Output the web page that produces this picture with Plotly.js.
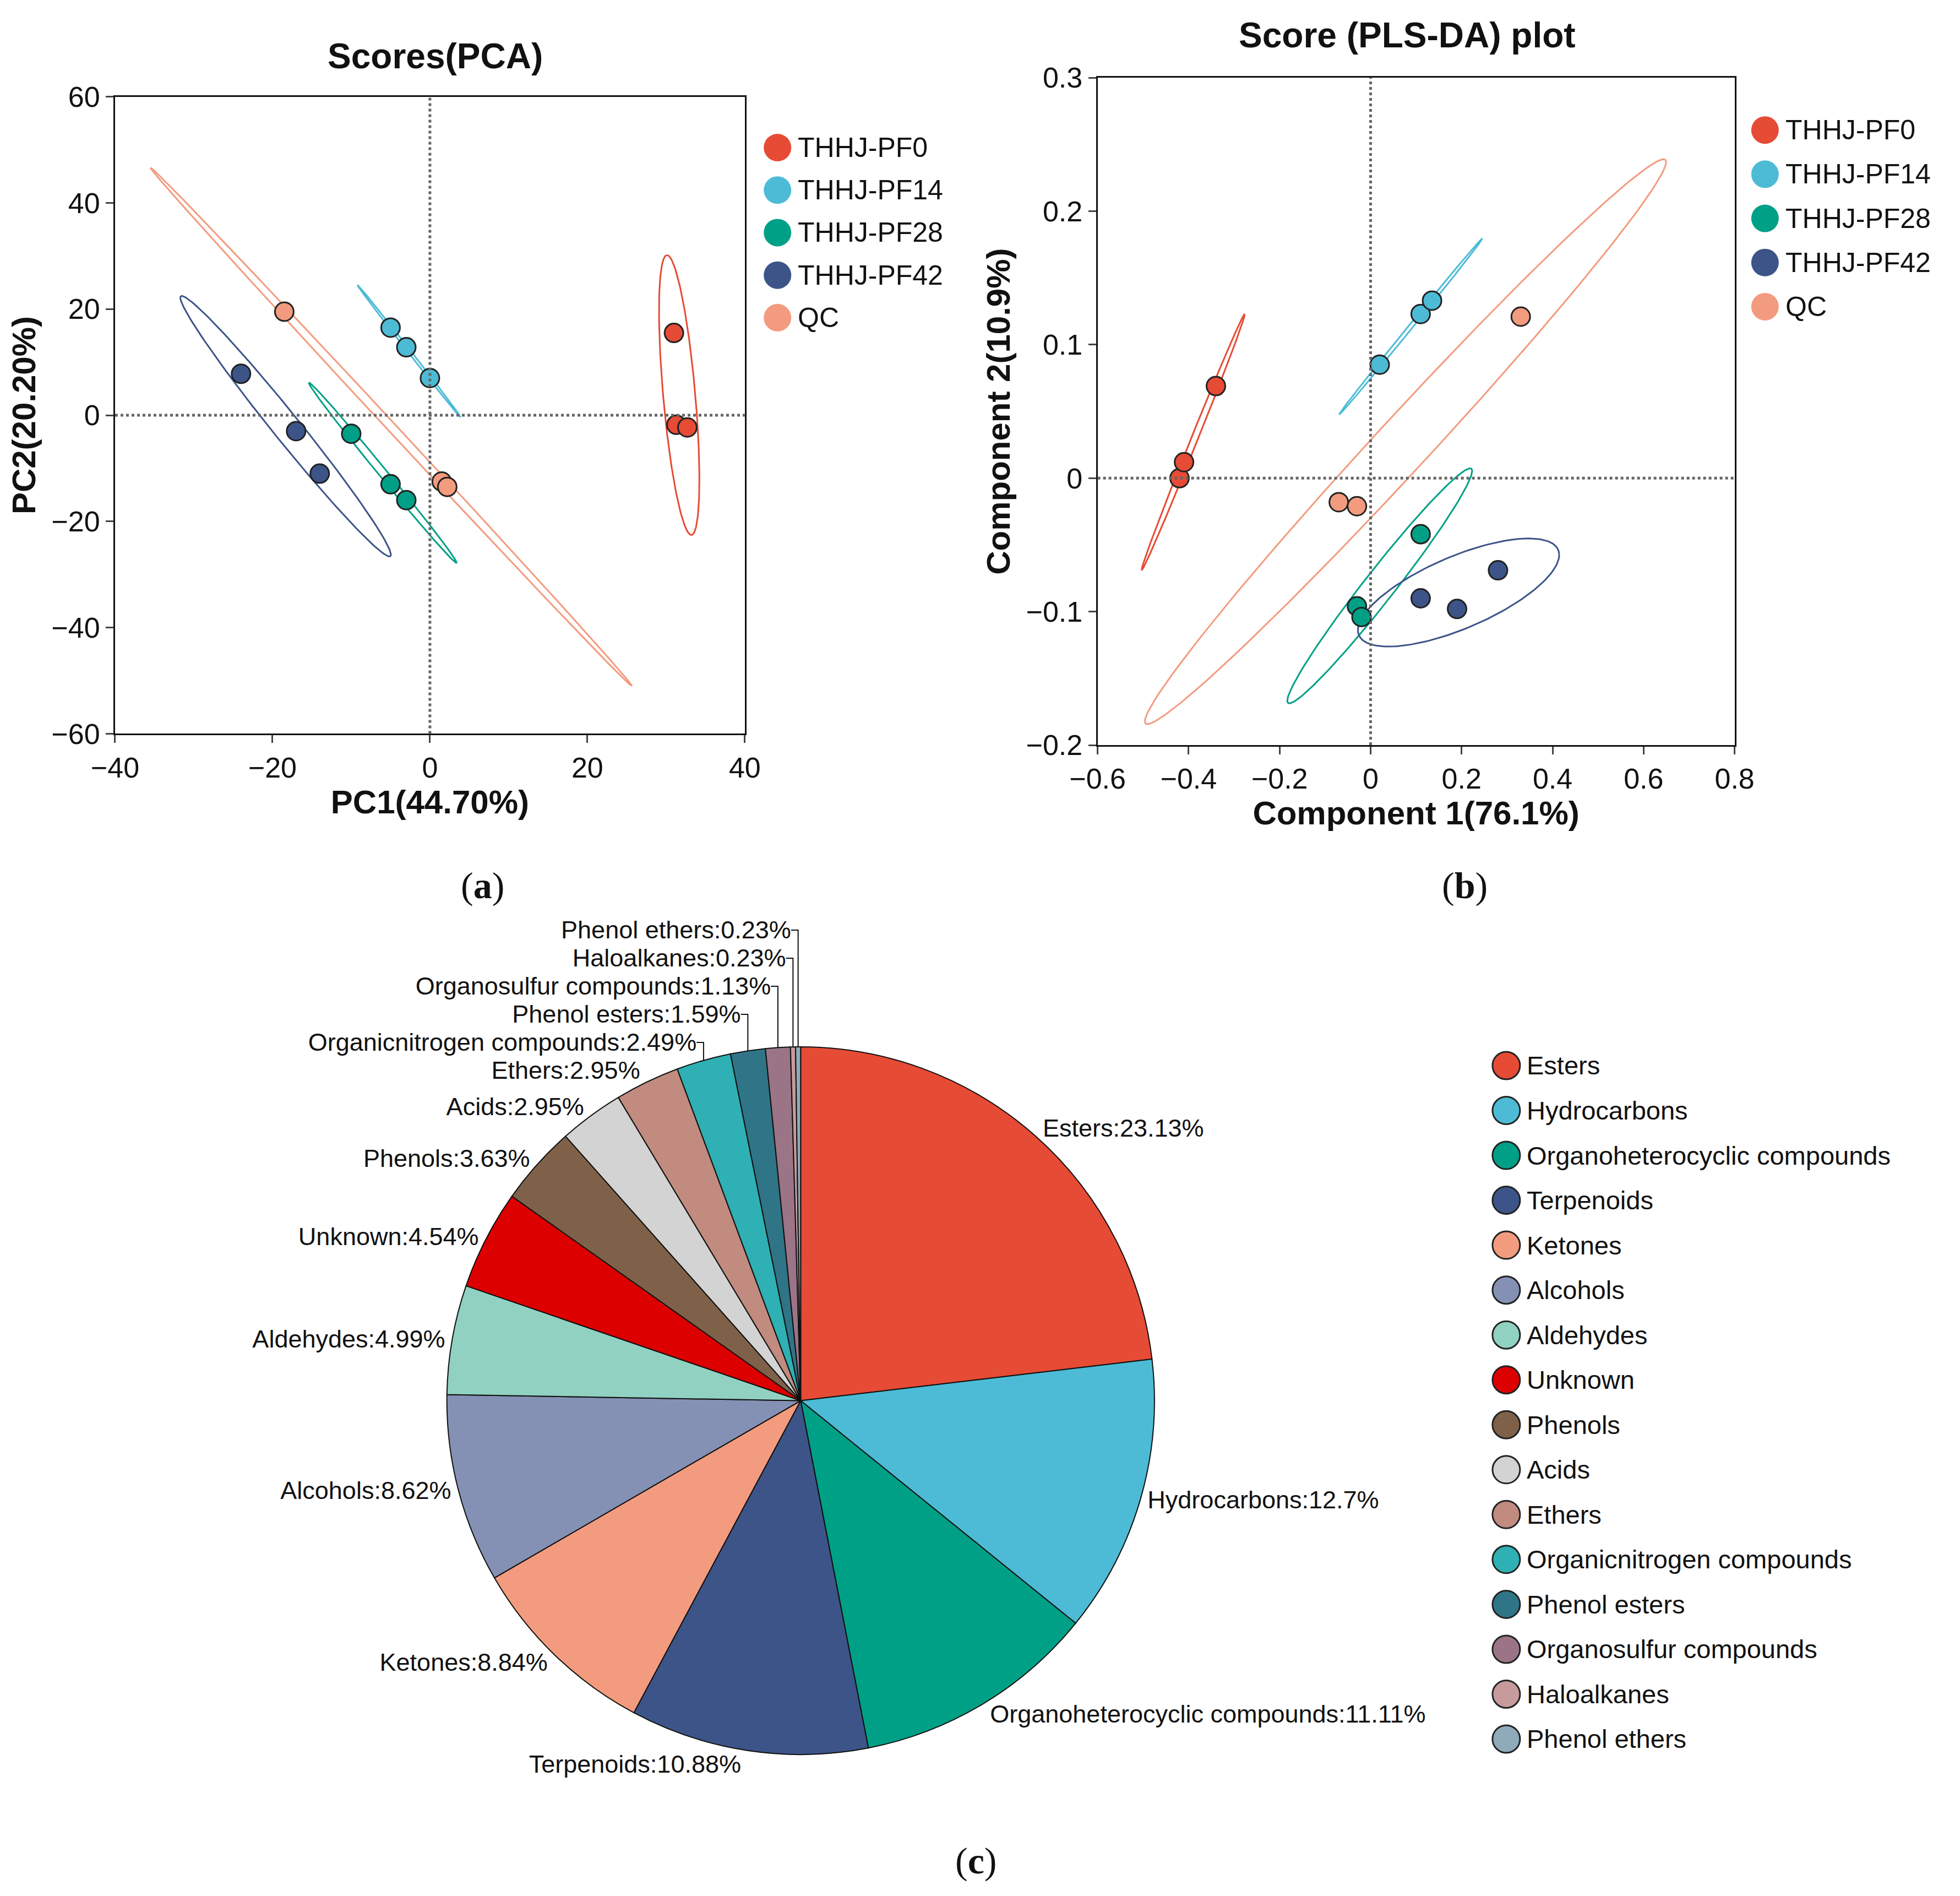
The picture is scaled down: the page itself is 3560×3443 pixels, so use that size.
<!DOCTYPE html>
<html><head><meta charset="utf-8">
<script src="https://cdn.plot.ly/plotly-3.0.1.min.js"></script>
<style>body{margin:0;background:#fff}</style>
</head><body>
<div id="g" style="width:3560px;height:3443px"></div>
<script>
var groups = ['THHJ-PF0', 'THHJ-PF14', 'THHJ-PF28', 'THHJ-PF42', 'QC'];
var groupColors = ['#e64b35', '#4dbbd5', '#00a087', '#3c5488', '#f39b7f'];

// PCA scores
var pcaX = [[31, 31.3, 32.7], [-5, -3, 0], [-10, -5, -3], [-24, -17, -14], [-18.5, 1.5, 2.2]];
var pcaY = [[15.5, -1.8, -2.3], [16.5, 12.8, 7], [-3.5, -13, -16], [7.8, -3, -11], [19.5, -12.5, -13.5]];

// PLS-DA scores
var plsX = [[-0.42, -0.41, -0.34], [0.02, 0.11, 0.135], [0.11, -0.03, -0.02], [0.11, 0.19, 0.28], [-0.07, -0.03, 0.33]];
var plsY = [[0, 0.012, 0.069], [0.085, 0.123, 0.133], [-0.042, -0.096, -0.104], [-0.09, -0.098, -0.069], [-0.018, -0.021, 0.121]];

// compound classes
var classes = ['Esters', 'Hydrocarbons', 'Organoheterocyclic compounds', 'Terpenoids', 'Ketones', 'Alcohols',
  'Aldehydes', 'Unknown', 'Phenols', 'Acids', 'Ethers', 'Organicnitrogen compounds', 'Phenol esters',
  'Organosulfur compounds', 'Haloalkanes', 'Phenol ethers'];
var shares = [23.13, 12.7, 11.11, 10.88, 8.84, 8.62, 4.99, 4.54, 3.63, 2.95, 2.95, 2.49, 1.59, 1.13, 0.23, 0.23];
var classColors = ['#e64b35', '#4dbbd5', '#00a087', '#3c5488', '#f39b7f', '#8491b4', '#91d1c2', '#dc0000',
  '#7e6148', '#d3d3d3', '#c18b80', '#2fb0b4', '#2f7587', '#9b7487', '#c79a9c', '#8fabb9'];

function ellipse(xs, ys, k) {
  var n = xs.length, mx = 0, my = 0;
  for (var i = 0; i < n; i++) { mx += xs[i] / n; my += ys[i] / n; }
  var sxx = 0, syy = 0, sxy = 0;
  for (var i = 0; i < n; i++) {
    sxx += (xs[i] - mx) * (xs[i] - mx) / (n - 1);
    syy += (ys[i] - my) * (ys[i] - my) / (n - 1);
    sxy += (xs[i] - mx) * (ys[i] - my) / (n - 1);
  }
  var tr = sxx + syy, det = sxx * syy - sxy * sxy;
  var l1 = tr / 2 + Math.sqrt(tr * tr / 4 - det), l2 = Math.max(tr / 2 - Math.sqrt(tr * tr / 4 - det), 0);
  var ang = Math.atan2(l1 - sxx, sxy);
  if (Math.abs(sxy) < 1e-12) ang = sxx >= syy ? 0 : Math.PI / 2;
  var a = k * Math.sqrt(l1), b = k * Math.sqrt(l2) + k * Math.sqrt(l1) * 0.01;
  var ex = [], ey = [];
  for (var j = 0; j <= 160; j++) {
    var t = 2 * Math.PI * j / 160;
    var u = a * Math.cos(t), v = b * Math.sin(t);
    ex.push(mx + u * Math.cos(ang) - v * Math.sin(ang));
    ey.push(my + u * Math.sin(ang) + v * Math.cos(ang));
  }
  return [ex, ey];
}

var data = [];
function addPanel(X, Y, xa, ya, k) {
  for (var g = 0; g < groups.length; g++) {
    var e = ellipse(X[g], Y[g], k);
    data.push({x: e[0], y: e[1], xaxis: xa, yaxis: ya, mode: 'lines', type: 'scatter',
      line: {color: groupColors[g], width: 3}, showlegend: false, hoverinfo: 'skip'});
  }
  for (var g = 0; g < groups.length; g++) {
    data.push({x: X[g], y: Y[g], xaxis: xa, yaxis: ya, name: groups[g], showlegend: false,
      mode: 'markers', type: 'scatter',
      marker: {color: groupColors[g], size: 34, line: {color: '#222', width: 3}}});
  }
}
addPanel(pcaX, pcaY, 'x', 'y', 2.6);
addPanel(plsX, plsY, 'x2', 'y2', 2.6);

data.push({
  type: 'pie', labels: classes, values: shares, sort: false, direction: 'clockwise', rotation: 0,
  domain: {x: [0.228, 0.589], y: [0.0745, 0.448]},
  marker: {colors: classColors, line: {color: '#111', width: 2}},
  texttemplate: '%{label}:%{value}%', textposition: 'outside',
  outsidetextfont: {size: 45, color: '#111', family: 'Arial, Liberation Sans'},
  showlegend: false
});

var W = 3560, H = 3443;
var shapes = [], annotations = [];
// custom legends: circle shapes plus text
function legendBlock(names, colors, x, y0, dy, outline, fs, r) {
  for (var i = 0; i < names.length; i++) {
    var y = y0 - i * dy;
    shapes.push({type: 'circle', xref: 'paper', yref: 'paper', xsizemode: 'pixel', ysizemode: 'pixel',
      xanchor: x, yanchor: y, x0: -r, x1: r, y0: -r, y1: r, fillcolor: colors[i],
      line: {color: outline ? '#222' : colors[i], width: outline ? 3 : 0}});
    annotations.push({text: names[i], xref: 'paper', yref: 'paper', x: x + (r + 10) / W, y: y,
      xanchor: 'left', yanchor: 'middle', showarrow: false, font: {size: fs, color: '#111', family: 'Arial, Liberation Sans'}});
  }
}
legendBlock(groups, groupColors, 622 / 1568, 1 - 118 / 1516, 34 / 1516, false, 50, 25);
legendBlock(groups, groupColors, 1412 / 1568, 1 - 104 / 1516, 35.3 / 1516, false, 50, 25);
legendBlock(classes, classColors, 1205 / 1568, 1 - 852 / 1516, 35.9 / 1516, true, 47, 25);

var axFont = {size: 52, color: '#111', family: 'Arial, Liberation Sans'};
function ax(dom, range, dtick, title, anchor) {
  return {domain: dom, range: range, dtick: dtick, anchor: anchor, showline: true, mirror: true,
    linecolor: '#111', linewidth: 3, ticks: 'outside', ticklen: 14, tickwidth: 3, showgrid: false,
    zeroline: false, tickfont: axFont,
    title: {text: '<b>' + title + '</b>', font: {size: 60, color: '#111', family: 'Arial, Liberation Sans'}, standoff: 10}};
}
function zl(xr, yr, vertical) {
  return vertical ?
    {type: 'line', xref: xr, yref: yr + ' domain', x0: 0, x1: 0, y0: 0, y1: 1, line: {color: '#666', width: 5, dash: 'dot'}} :
    {type: 'line', xref: xr + ' domain', yref: yr, x0: 0, x1: 1, y0: 0, y1: 0, line: {color: '#666', width: 5, dash: 'dot'}};
}
shapes.push(zl('x', 'y', true), zl('x', 'y', false), zl('x2', 'y2', true), zl('x2', 'y2', false));
var serif = {size: 68, color: '#111', family: 'Liberation Serif, DejaVu Serif'};
var sans = {size: 64, color: '#111', family: 'Arial, Liberation Sans'};
annotations.push(
  {text: '<b>Scores(PCA)</b>', x: 348 / 1568, y: 1 - 45 / 1516, font: sans},
  {text: '<b>Score (PLS-DA) plot</b>', x: 1126 / 1568, y: 1 - 28 / 1516, font: sans},
  {text: '(<b>a</b>)', x: 386 / 1568, y: 1 - 708 / 1516, font: serif},
  {text: '(<b>b</b>)', x: 1172 / 1568, y: 1 - 708 / 1516, font: serif},
  {text: '(<b>c</b>)', x: 781 / 1568, y: 1 - 1488 / 1516, font: serif}
);
annotations.slice(-5).forEach(function (a) {
  a.xref = 'paper'; a.yref = 'paper'; a.xanchor = 'center'; a.yanchor = 'middle'; a.showarrow = false;
});

var layout = {
  width: W, height: H, paper_bgcolor: '#fff', plot_bgcolor: '#fff',
  margin: {l: 0, r: 0, t: 0, b: 0}, showlegend: false,
  font: {family: 'Arial, Liberation Sans'},
  xaxis: ax([0.0587, 0.380], [-40, 40], 20, 'PC1(44.70%)', 'y'),
  yaxis: ax([0.613, 0.949], [-60, 60], 20, 'PC2(20.20%)', 'x'),
  xaxis2: ax([0.560, 0.885], [-0.6, 0.8], 0.2, 'Component 1(76.1%)', 'y2'),
  yaxis2: ax([0.607, 0.959], [-0.2, 0.3], 0.1, 'Component 2(10.9%)', 'x2'),
  shapes: shapes, annotations: annotations
};
Plotly.newPlot('g', data, layout, {staticPlot: true});
</script>
</body></html>
